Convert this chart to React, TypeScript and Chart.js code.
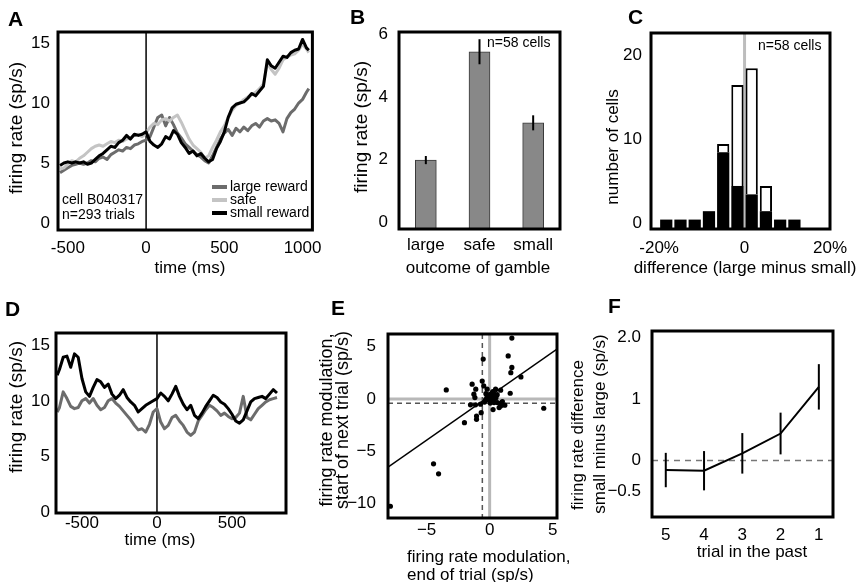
import React, { useEffect, useRef } from "react";
import { Chart, registerables } from "chart.js";

Chart.register(...registerables);

const FONT = "'Liberation Sans', Arial, Helvetica, sans-serif";
const DARK_GRAY = "#6c6c6c";
const LIGHT_GRAY = "#c4c4c4";
const BAR_GRAY = "#888888";

/* ---------- Panel A : single cell PSTH ---------- */
const A_TIME_MS = [-550, -525, -500, -475, -450, -425, -400, -375, -350, -325, -300, -275, -250, -225, -200, -175, -150, -125, -100, -75, -50, -25, 0, 25, 50, 75, 100, 125, 150, 175, 200, 225, 250, 275, 300, 325, 350, 375, 400, 425, 450, 475, 500, 525, 550, 575, 600, 625, 650, 675, 700, 725, 750, 775, 800, 825, 850, 875, 900, 925, 950, 975, 1000, 1025, 1040];
const A_LARGE = [4.2, 4.4, 4.6, 4.8, 4.9, 5.0, 4.9, 5.0, 5.2, 5.1, 5.4, 5.5, 5.3, 5.7, 5.9, 6.1, 6.0, 6.3, 6.2, 6.5, 6.6, 6.8, 6.9, 7.2, 8.0, 8.8, 9.0, 8.1, 8.8, 8.2, 7.5, 7.1, 6.6, 6.3, 6.0, 5.7, 5.5, 5.2, 5.0, 5.6, 6.3, 7.0, 7.5, 7.8, 7.3, 7.9, 7.6, 8.0, 7.7, 8.1, 8.3, 8.0, 8.5, 8.7, 8.5, 8.6, 8.3, 7.6, 8.7, 9.2, 9.5, 10.0, 10.3, 10.9, 11.2];
const A_SAFE = [4.5, 4.6, 4.9, 5.2, 5.1, 5.4, 5.6, 5.9, 6.2, 6.4, 6.5, 6.4, 6.6, 6.8, 6.7, 6.9, 6.8, 7.0, 7.1, 7.3, 7.4, 7.2, 7.5, 8.0, 8.3, 8.2, 8.6, 8.7, 8.5, 8.8, 9.0, 8.4, 7.7, 7.0, 6.5, 6.2, 5.9, 5.4, 5.6, 6.3, 6.9, 7.6, 8.1, 8.8, 9.4, 9.8, 10.0, 10.3, 10.5, 10.7, 10.9, 11.2, 11.6, 13.3, 12.8, 12.4, 12.9, 13.6, 13.8, 14.0, 14.1, 14.4, 14.9, 14.5, 14.2];
const A_SMALL = [4.8, 5.0, 5.1, 5.0, 5.1, 5.0, 5.1, 4.9, 5.0, 5.3, 5.6, 5.8, 6.1, 6.4, 6.3, 6.7, 6.9, 7.3, 7.0, 7.4, 7.3, 7.4, 7.6, 6.8, 6.5, 6.3, 6.6, 7.2, 7.0, 7.7, 7.4, 6.7, 6.3, 5.8, 6.0, 5.6, 5.8, 5.4, 5.1, 5.3, 6.2, 6.8, 7.6, 8.8, 9.6, 9.9, 10.0, 10.1, 10.4, 10.8, 10.6, 11.0, 11.4, 13.6, 13.1, 12.9, 13.4, 13.9, 13.8, 14.2, 14.4, 14.5, 15.3, 14.6, 14.4];
const A_X_TICKS = [-500, 0, 500, 1000];
const A_X_LABELS = ["-500", "0", "500", "1000"];
const A_Y_TICKS = [0, 5, 10, 15];
const A_Y_LABELS = ["0", "5", "10", "15"];
const A_LEGEND = ["large reward", "safe", "small reward"];

/* ---------- Panel B : population bar chart ---------- */
const B_OUTCOMES = ["large", "safe", "small"];
const B_RATE = [1.98, 5.44, 3.17];
const B_SEM = [0.13, 0.4, 0.24];
const B_Y_TICKS = [0, 2, 4, 6];
const B_Y_LABELS = ["0", "2", "4", "6"];

/* ---------- Panel C : histogram ---------- */
const C_BIN_CENTERS = [-18.33, -15, -11.67, -8.33, -5, -1.67, 1.67, 5, 8.33, 11.67];
const C_FILLED = [1, 1, 1, 2, 9, 5, 4, 2, 1, 1];
const C_OPEN = [0, 0, 0, 0, 1, 12, 15, 3, 0, 0];
const C_X_TICKS = [-20, 0, 20];
const C_X_LABELS = ["-20%", "0", "20%"];
const C_Y_TICKS = [0, 10, 20];
const C_Y_LABELS = ["0", "10", "20"];

/* ---------- Panel D : PSTH next trial ---------- */
const D_TIME_MS = [-665, -650, -625, -600, -575, -550, -525, -500, -475, -450, -425, -400, -375, -350, -325, -300, -275, -250, -225, -200, -175, -150, -125, -100, -75, -50, -25, 0, 25, 50, 75, 100, 125, 150, 175, 200, 225, 250, 275, 300, 325, 350, 375, 400, 425, 450, 475, 500, 525, 550, 575, 600, 625, 650, 675, 700, 725, 750, 775, 800];
const D_SMALL = [12.3, 12.8, 13.9, 14.0, 13.0, 14.2, 13.9, 12.0, 10.8, 10.4, 11.2, 11.9, 11.7, 11.2, 11.5, 10.6, 10.2, 10.5, 11.0, 10.3, 9.9, 9.6, 9.0, 9.3, 9.6, 9.8, 10.0, 10.2, 10.7, 10.4, 10.0, 10.6, 11.3, 10.4, 9.7, 9.2, 9.6, 8.7, 8.4, 8.9, 9.5, 10.0, 10.5, 10.3, 9.9, 9.7, 9.3, 8.8, 8.2, 8.0, 8.3, 9.1, 9.9, 10.2, 10.3, 10.4, 10.2, 10.6, 11.0, 10.7];
const D_LARGE = [9.0, 9.4, 10.8, 10.2, 9.5, 9.3, 9.4, 10.0, 10.2, 9.8, 10.2, 9.6, 9.2, 9.4, 10.0, 10.2, 9.8, 9.5, 9.1, 8.7, 8.3, 7.8, 7.4, 7.5, 7.2, 7.9, 9.0, 9.3, 8.1, 7.5, 7.8, 8.5, 8.7, 8.2, 7.8, 7.2, 6.9, 7.2, 8.2, 8.7, 9.2, 9.6, 9.4, 9.1, 8.7, 8.9, 8.6, 8.4, 8.5, 8.9, 10.4, 8.5, 8.3, 8.8, 9.3, 9.6, 9.9, 10.1, 10.2, 10.3];
const D_X_TICKS = [-500, 0, 500];
const D_X_LABELS = ["-500", "0", "500"];
const D_Y_TICKS = [0, 5, 10, 15];
const D_Y_LABELS = ["0", "5", "10", "15"];

/* ---------- Panel E : scatter ---------- */
const E_END = [1.76, 1.47, -0.51, 1.76, 1.68, 2.48, -3.44, -1.39, -0.59, -1.1, -1.25, -1.17, -0.47, -0.2, 0.47, 0.87, 1.63, -0.05, 0.08, 0.21, 0.35, -0.19, -0.32, 0.21, -1.52, -1.12, -0.72, 0.35, 0.61, 0.87, 1.01, 0.75, 0.27, 4.29, -2.0, -1.04, -1.04, -0.67, -4.45, -4.05, -7.87, 0.1, 0.3, -0.1, 0.2, 0.4, 0.0, -0.2, 0.15, 0.5, 0.25, -0.3, 0.6, 0.05, -0.4, 0.35, 1.2, 0.9];
const E_START = [5.8, 4.1, 3.8, 3.0, 2.5, 2.1, 0.86, 1.4, 1.7, 0.93, 0.45, 0.13, 1.24, 0.93, 0.93, 0.83, 0.54, 0.27, 0.42, 0.58, 0.42, 0.1, -0.06, 0.13, -0.57, -0.57, -0.5, -0.35, -0.35, -0.67, -0.25, -0.83, -1.02, -0.89, -2.27, -1.63, -1.95, -1.31, -6.19, -7.15, -10.24, 0.2, 0.5, -0.1, 0.0, 0.3, 0.4, 0.2, -0.2, 0.1, 0.7, 0.5, 0.4, -0.4, -0.3, -0.1, -0.6, -0.4];
const E_FIT_SLOPE = 0.84;
const E_FIT_INTERCEPT = 0.27;
const E_MEAN_END = -0.58;
const E_MEAN_START = -0.41;
const E_X_TICKS = [-5, 0, 5];
const E_X_LABELS = ["\u22125", "0", "5"];
const E_Y_TICKS = [-10, -5, 0, 5];
const E_Y_LABELS = ["\u221210", "\u22125", "0", "5"];

/* ---------- Panel F : history effect ---------- */
const F_TRIAL = [5, 4, 3, 2, 1];
const F_DIFF = [-0.155, -0.166, 0.117, 0.44, 1.2];
const F_SEM = [0.28, 0.32, 0.33, 0.34, 0.37];
const F_X_TICKS = [5, 4, 3, 2, 1];
const F_X_LABELS = ["5", "4", "3", "2", "1"];
const F_Y_TICKS = [-0.5, 0, 1, 2];
const F_Y_LABELS = ["\u22120.5", "0", "1", "2.0"];

/* ---------- layout helpers ---------- */
type Box = { x: number; y: number; w: number; h: number };
type Plot = { l: number; t: number; r: number; b: number };
type Txt = { s: string; x: number; y: number; size: number; bold?: boolean; align?: CanvasTextAlign; rot?: boolean };

const A_BOX: Box = { x: 0, y: 0, w: 330, h: 290 };
const B_BOX: Box = { x: 330, y: 0, w: 245, h: 290 };
const C_BOX: Box = { x: 575, y: 0, w: 292, h: 290 };
const D_BOX: Box = { x: 0, y: 290, w: 318, h: 292 };
const E_BOX: Box = { x: 318, y: 290, w: 262, h: 292 };
const F_BOX: Box = { x: 570, y: 290, w: 297, h: 292 };

const A_PLOT: Plot = { l: 58, t: 32, r: 316, b: 230 };
const B_PLOT: Plot = { l: 399, t: 32, r: 560, b: 229 };
const C_PLOT: Plot = { l: 651, t: 33, r: 830, b: 229 };
const D_PLOT: Plot = { l: 56, t: 333, r: 286, b: 513 };
const E_PLOT: Plot = { l: 388, t: 334, r: 557, b: 518 };
const F_PLOT: Plot = { l: 652, t: 331, r: 833, b: 517 };

function baseOptions(box: Box, plot: Plot) {
  return {
    responsive: false,
    maintainAspectRatio: false,
    animation: false,
    devicePixelRatio: 1,
    events: [],
    layout: {
      autoPadding: false,
      padding: { left: 0, top: plot.t - box.y, right: box.x + box.w - plot.r, bottom: 0 },
    },
    plugins: { legend: { display: false }, tooltip: { enabled: false }, title: { display: false } },
  };
}

function fitX(box: Box, plot: Plot) {
  return (s: any) => {
    s.height = box.y + box.h - plot.b;
  };
}
function fitY(box: Box, plot: Plot) {
  return (s: any) => {
    s.width = plot.l - box.x;
  };
}

function linAxis(min: number, max: number, ticks: number[], labels: string[], pad: number, fit: (s: any) => void, extra: any = {}) {
  const { ticks: extraTicks, ...rest } = extra;
  return {
    type: "linear",
    min,
    max,
    bounds: "data",
    offset: false,
    ...rest,
    grid: { display: false, drawTicks: false },
    border: { display: false },
    afterBuildTicks: (s: any) => {
      s.ticks = ticks.map((v) => ({ value: v }));
    },
    afterFit: fit,
    ticks: {
      font: { family: FONT, size: 17 },
      color: "#000",
      padding: pad,
      autoSkip: false,
      maxRotation: 0,
      minRotation: 0,
      callback: (_v: any, i: number) => labels[i],
      ...(extraTicks || {}),
    },
  };
}

function drawTexts(ctx: CanvasRenderingContext2D, texts: Txt[], box: Box) {
  for (const t of texts) {
    ctx.save();
    ctx.translate(t.x - box.x, t.y - box.y);
    if (t.rot) ctx.rotate(-Math.PI / 2);
    ctx.font = `${t.bold ? "bold " : ""}${t.size}px ${FONT}`;
    ctx.fillStyle = "#000";
    ctx.textAlign = t.align || "center";
    ctx.textBaseline = "middle";
    ctx.fillText(t.s, 0, 0);
    ctx.restore();
  }
}

function vline(chart: any, value: number, color: string, width: number, dash?: number[]) {
  const ctx = chart.ctx;
  const a = chart.chartArea;
  const x = chart.scales.x.getPixelForValue(value);
  ctx.save();
  ctx.beginPath();
  ctx.strokeStyle = color;
  ctx.lineWidth = width;
  if (dash) ctx.setLineDash(dash);
  ctx.moveTo(x, a.top);
  ctx.lineTo(x, a.bottom);
  ctx.stroke();
  ctx.restore();
}

function hline(chart: any, value: number, color: string, width: number, dash?: number[]) {
  const ctx = chart.ctx;
  const a = chart.chartArea;
  const y = chart.scales.y.getPixelForValue(value);
  ctx.save();
  ctx.beginPath();
  ctx.strokeStyle = color;
  ctx.lineWidth = width;
  if (dash) ctx.setLineDash(dash);
  ctx.moveTo(a.left, y);
  ctx.lineTo(a.right, y);
  ctx.stroke();
  ctx.restore();
}

function errorBar(chart: any, x: number, lo: number, hi: number, width: number) {
  const ctx = chart.ctx;
  const ys = chart.scales.y;
  ctx.save();
  ctx.beginPath();
  ctx.strokeStyle = "#000";
  ctx.lineWidth = width;
  ctx.moveTo(x, ys.getPixelForValue(lo));
  ctx.lineTo(x, ys.getPixelForValue(hi));
  ctx.stroke();
  ctx.restore();
}

function deco(box: Box, texts: Txt[], under?: (c: any) => void, over?: (c: any) => void, last?: (c: any) => void) {
  return {
    id: "deco",
    beforeDatasetsDraw(chart: any) {
      if (under) under(chart);
    },
    afterDatasetsDraw(chart: any) {
      if (over) over(chart);
    },
    afterDraw(chart: any) {
      const ctx = chart.ctx;
      const a = chart.chartArea;
      ctx.save();
      ctx.strokeStyle = "#000";
      ctx.lineWidth = 3;
      ctx.strokeRect(a.left, a.top, a.right - a.left, a.bottom - a.top);
      ctx.restore();
      drawTexts(ctx, texts, box);
      if (last) last(chart);
    },
  };
}

function lineSeries(times: number[], values: number[], color: string, order: number, label: string) {
  return {
    label,
    data: times.map((t, i) => ({ x: t, y: values[i] })),
    borderColor: color,
    borderWidth: 3,
    pointRadius: 0,
    tension: 0,
    borderJoinStyle: "round",
    order,
  };
}

/* ---------- chart builders ---------- */
function makeA() {
  const legendColors = [DARK_GRAY, LIGHT_GRAY, "#000"];
  const legendRowsY = [187, 200, 213];
  return {
    type: "line",
    data: {
      datasets: [
        lineSeries(A_TIME_MS, A_SMALL, "#000", 0, A_LEGEND[2]),
        lineSeries(A_TIME_MS, A_SAFE, LIGHT_GRAY, 1, A_LEGEND[1]),
        lineSeries(A_TIME_MS, A_LARGE, DARK_GRAY, 2, A_LEGEND[0]),
      ],
    },
    options: {
      ...baseOptions(A_BOX, A_PLOT),
      scales: {
        x: linAxis(-563, 1063, A_X_TICKS, A_X_LABELS, 8, fitX(A_BOX, A_PLOT)),
        y: linAxis(-0.58, 15.92, A_Y_TICKS, A_Y_LABELS, 8, fitY(A_BOX, A_PLOT)),
      },
    },
    plugins: [
      deco(
        A_BOX,
        [
          { s: "A", x: 8, y: 20, size: 21, bold: true, align: "left" },
          { s: "firing rate (sp/s)", x: 17, y: 128, size: 19, rot: true },
          { s: "time (ms)", x: 190, y: 268, size: 17 },
          { s: "cell B040317", x: 62, y: 200, size: 14, align: "left" },
          { s: "n=293 trials", x: 62, y: 215, size: 14, align: "left" },
        ],
        (c) => vline(c, 0, "#000", 1.5),
        undefined,
        (c) => {
          const ctx = c.ctx;
          A_LEGEND.forEach((label, i) => {
            const y = legendRowsY[i] - A_BOX.y;
            ctx.save();
            ctx.beginPath();
            ctx.strokeStyle = legendColors[i];
            ctx.lineWidth = 4;
            ctx.moveTo(212 - A_BOX.x, y);
            ctx.lineTo(227 - A_BOX.x, y);
            ctx.stroke();
            ctx.font = `14px ${FONT}`;
            ctx.fillStyle = "#000";
            ctx.textAlign = "left";
            ctx.textBaseline = "middle";
            ctx.fillText(label, 230 - A_BOX.x, y);
            ctx.restore();
          });
        }
      ),
    ],
  };
}

const B_Y_MIN = -0.22;
function makeB() {
  return {
    type: "bar",
    data: {
      labels: B_OUTCOMES,
      datasets: [
        {
          data: B_RATE,
          backgroundColor: BAR_GRAY,
          borderColor: "#3a3a3a",
          borderWidth: 1,
          borderSkipped: false,
          barThickness: 21,
          base: B_Y_MIN,
        },
      ],
    },
    options: {
      ...baseOptions(B_BOX, B_PLOT),
      scales: {
        x: {
          type: "category",
          offset: true,
          grid: { display: false, drawTicks: false },
          border: { display: false },
          afterFit: fitX(B_BOX, B_PLOT),
          ticks: { font: { family: FONT, size: 17 }, color: "#000", padding: 6, maxRotation: 0, autoSkip: false },
        },
        y: linAxis(B_Y_MIN, 6.07, B_Y_TICKS, B_Y_LABELS, 11, fitY(B_BOX, B_PLOT)),
      },
    },
    plugins: [
      deco(
        B_BOX,
        [
          { s: "B", x: 350, y: 18, size: 21, bold: true, align: "left" },
          { s: "firing rate (sp/s)", x: 362, y: 127, size: 19, rot: true },
          { s: "outcome of gamble", x: 478, y: 268, size: 17 },
          { s: "n=58 cells", x: 487, y: 43, size: 14, align: "left" },
        ],
        undefined,
        (c) => {
          const meta = c.getDatasetMeta(0);
          B_RATE.forEach((v, i) => errorBar(c, meta.data[i].x, v - B_SEM[i], v + B_SEM[i], 2));
        }
      ),
    ],
  };
}

function makeC() {
  const common = { stack: "cells", barPercentage: 0.86, categoryPercentage: 1 };
  return {
    type: "bar",
    data: {
      datasets: [
        { ...common, data: C_BIN_CENTERS.map((x, i) => ({ x, y: C_FILLED[i] })), backgroundColor: "#000", borderWidth: 0 },
        { ...common, data: C_BIN_CENTERS.map((x, i) => ({ x, y: C_OPEN[i] })), backgroundColor: "#fff", borderColor: "#000", borderWidth: 2 },
      ],
    },
    options: {
      ...baseOptions(C_BOX, C_PLOT),
      scales: {
        x: linAxis(-21.9, 20, C_X_TICKS, C_X_LABELS, 9, fitX(C_BOX, C_PLOT), { offset: false }),
        y: linAxis(-0.12, 23.2, C_Y_TICKS, C_Y_LABELS, 9, fitY(C_BOX, C_PLOT), { stacked: true, ticks: { labelOffset: -5 } }),
      },
    },
    plugins: [
      deco(
        C_BOX,
        [
          { s: "C", x: 628, y: 18, size: 21, bold: true, align: "left" },
          { s: "number of cells", x: 613, y: 147, size: 17, rot: true },
          { s: "difference (large minus small)", x: 745, y: 268, size: 17 },
          { s: "n=58 cells", x: 758, y: 46, size: 14, align: "left" },
        ],
        (c) => vline(c, 0, "#bdbdbd", 3)
      ),
    ],
  };
}

function makeD() {
  return {
    type: "line",
    data: {
      datasets: [
        lineSeries(D_TIME_MS, D_SMALL, "#000", 0, "small reward"),
        lineSeries(D_TIME_MS, D_LARGE, DARK_GRAY, 1, "large reward"),
      ],
    },
    options: {
      ...baseOptions(D_BOX, D_PLOT),
      scales: {
        x: linAxis(-673, 860, D_X_TICKS, D_X_LABELS, 0, fitX(D_BOX, D_PLOT)),
        y: linAxis(-0.04, 16.07, D_Y_TICKS, D_Y_LABELS, 6, fitY(D_BOX, D_PLOT)),
      },
    },
    plugins: [
      deco(
        D_BOX,
        [
          { s: "D", x: 5, y: 310, size: 21, bold: true, align: "left" },
          { s: "firing rate (sp/s)", x: 17, y: 407, size: 19, rot: true },
          { s: "time (ms)", x: 160, y: 540, size: 17 },
        ],
        (c) => vline(c, 0, "#000", 1.5)
      ),
    ],
  };
}

const E_X_MIN = -8.06;
const E_X_MAX = 5.34;
function makeE() {
  return {
    type: "scatter",
    data: {
      datasets: [
        {
          data: E_END.map((x, i) => ({ x, y: E_START[i] })),
          backgroundColor: "#000",
          borderColor: "#000",
          borderWidth: 0,
          pointRadius: 2.6,
          order: 0,
        },
        {
          type: "line",
          data: [E_X_MIN, E_X_MAX].map((x) => ({ x, y: E_FIT_SLOPE * x + E_FIT_INTERCEPT })),
          borderColor: "#000",
          borderWidth: 1.5,
          pointRadius: 0,
          showLine: true,
          order: 1,
        },
      ],
    },
    options: {
      ...baseOptions(E_BOX, E_PLOT),
      scales: {
        x: linAxis(E_X_MIN, E_X_MAX, E_X_TICKS, E_X_LABELS, 2, fitX(E_BOX, E_PLOT)),
        y: linAxis(-11.36, 6.19, E_Y_TICKS, E_Y_LABELS, 12, fitY(E_BOX, E_PLOT)),
      },
    },
    plugins: [
      deco(
        E_BOX,
        [
          { s: "E", x: 331, y: 309, size: 21, bold: true, align: "left" },
          { s: "firing rate modulation,", x: 327, y: 420, size: 18, rot: true },
          { s: "start of next trial (sp/s)", x: 343, y: 420, size: 18, rot: true },
          { s: "firing rate modulation,", x: 407, y: 557, size: 17, align: "left" },
          { s: "end of trial (sp/s)", x: 407, y: 575, size: 17, align: "left" },
        ],
        (c) => {
          vline(c, 0, "#b8b8b8", 3);
          hline(c, 0, "#b8b8b8", 3);
          vline(c, E_MEAN_END, "#555", 1.5, [5, 4]);
          hline(c, E_MEAN_START, "#555", 1.5, [5, 4]);
        }
      ),
    ],
  };
}

function makeF() {
  return {
    type: "line",
    data: {
      datasets: [
        {
          data: F_TRIAL.map((x, i) => ({ x, y: F_DIFF[i] })),
          borderColor: "#000",
          borderWidth: 2,
          pointRadius: 0,
          tension: 0,
        },
      ],
    },
    options: {
      ...baseOptions(F_BOX, F_PLOT),
      scales: {
        x: linAxis(0.63, 5.36, F_X_TICKS, F_X_LABELS, 8, fitX(F_BOX, F_PLOT), { reverse: true }),
        y: linAxis(-0.92, 2.11, F_Y_TICKS, F_Y_LABELS, 11, fitY(F_BOX, F_PLOT)),
      },
    },
    plugins: [
      deco(
        F_BOX,
        [
          { s: "F", x: 608, y: 307, size: 21, bold: true, align: "left" },
          { s: "firing rate difference", x: 578, y: 435, size: 17, rot: true },
          { s: "small minus large (sp/s)", x: 600, y: 424, size: 17, rot: true },
          { s: "trial in the past", x: 752, y: 552, size: 17 },
        ],
        (c) => hline(c, 0, "#777", 1.5, [6, 5]),
        (c) => {
          F_TRIAL.forEach((t, i) => errorBar(c, c.scales.x.getPixelForValue(t), F_DIFF[i] - F_SEM[i], F_DIFF[i] + F_SEM[i], 2));
        }
      ),
    ],
  };
}

function Panel({ box, make }: { box: Box; make: () => any }) {
  const ref = useRef<HTMLCanvasElement | null>(null);
  useEffect(() => {
    if (!ref.current) return;
    const chart = new Chart(ref.current, make());
    return () => chart.destroy();
  }, []);
  return (
    <canvas
      ref={ref}
      width={box.w}
      height={box.h}
      style={{ position: "absolute", left: box.x, top: box.y, width: box.w, height: box.h }}
    />
  );
}

export default function App() {
  return (
    <div style={{ position: "absolute", left: 0, top: 0, width: 867, height: 582, background: "#fff", overflow: "hidden" }}>
      <Panel box={A_BOX} make={makeA} />
      <Panel box={B_BOX} make={makeB} />
      <Panel box={C_BOX} make={makeC} />
      <Panel box={D_BOX} make={makeD} />
      <Panel box={E_BOX} make={makeE} />
      <Panel box={F_BOX} make={makeF} />
    </div>
  );
}
